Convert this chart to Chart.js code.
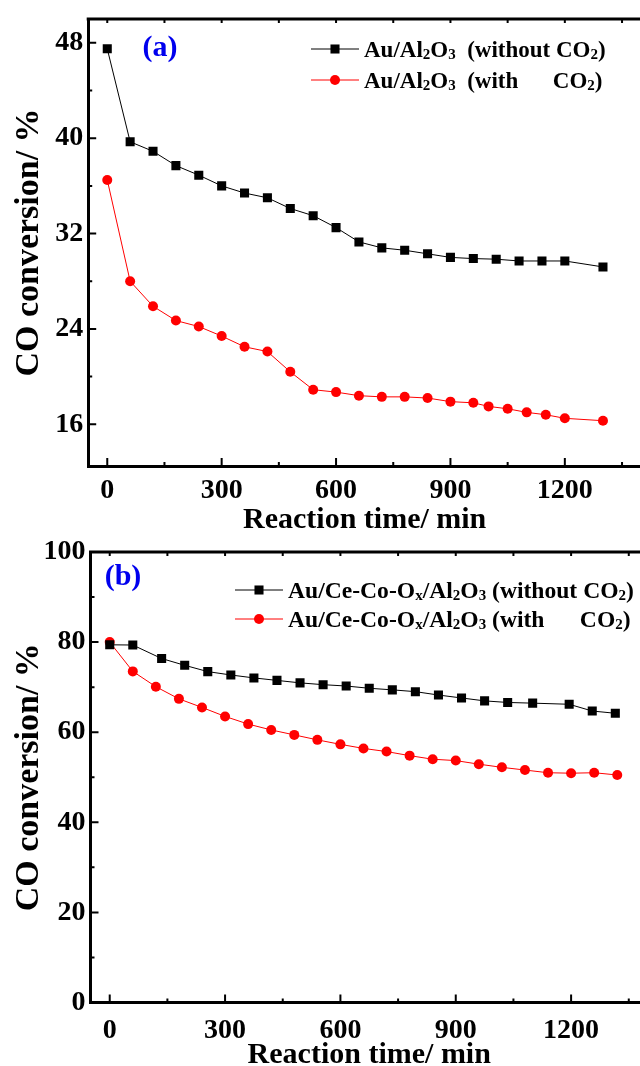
<!DOCTYPE html>
<html>
<head>
<meta charset="utf-8">
<script src="https://cdn.jsdelivr.net/npm/chart.js@4.4.1/dist/chart.umd.min.js"></script>
<style>
html, body { margin: 0; padding: 0; background: #fff; overflow: hidden; width: 640px; height: 1066px; }
canvas { position: absolute; left: 0; }
#chartA { top: 0; }
#chartB { top: 533px; }
</style>
</head>
<body>
<canvas id="chartA" width="700" height="545"></canvas>
<canvas id="chartB" width="700" height="546"></canvas>
<script>
// (a) Au/Al2O3
const timeA_noCO2 = [0, 60, 120, 180, 240, 300, 360, 420, 480, 540, 600, 660, 720, 780, 840, 900, 960, 1020, 1080, 1140, 1200, 1300];
const convA_noCO2 = [47.5, 39.7, 38.9, 37.7, 36.9, 36.0, 35.4, 35.0, 34.1, 33.5, 32.5, 31.3, 30.8, 30.6, 30.3, 30.0, 29.9, 29.85, 29.7, 29.7, 29.7, 29.2];
const timeA_CO2 = [0, 60, 120, 180, 240, 300, 360, 420, 480, 540, 600, 660, 720, 780, 840, 900, 960, 1000, 1050, 1100, 1150, 1200, 1300];
const convA_CO2 = [36.5, 28.0, 25.9, 24.7, 24.2, 23.4, 22.5, 22.1, 20.4, 18.9, 18.7, 18.4, 18.3, 18.3, 18.2, 17.9, 17.8, 17.5, 17.3, 17.0, 16.8, 16.5, 16.3];

// (b) Au/Ce-Co-Ox/Al2O3
const timeB_noCO2 = [0, 60, 135, 195, 255, 315, 375, 435, 495, 555, 615, 675, 735, 795, 855, 915, 975, 1035, 1100, 1195, 1255, 1315];
const convB_noCO2 = [79.4, 79.35, 76.35, 74.85, 73.45, 72.7, 72.05, 71.5, 70.95, 70.55, 70.25, 69.75, 69.4, 69.0, 68.25, 67.6, 66.95, 66.6, 66.45, 66.2, 64.7, 64.2];
const timeB_CO2 = [0, 60, 120, 180, 240, 300, 360, 420, 480, 540, 600, 660, 720, 780, 840, 900, 960, 1020, 1080, 1140, 1200, 1260, 1320];
const convB_CO2 = [80.0, 73.5, 70.1, 67.4, 65.5, 63.5, 61.8, 60.5, 59.4, 58.3, 57.3, 56.4, 55.7, 54.8, 54.0, 53.7, 52.9, 52.2, 51.6, 51.0, 50.9, 51.0, 50.5];

const xTicks = [0, 300, 600, 900, 1200];
const yTicksA = [16, 24, 32, 40, 48];
const yTicksB = [0, 20, 40, 60, 80, 100];

// "_x" = subscript
const labelsA = ['Au/Al_2O_3  (without CO_2)', 'Au/Al_2O_3  (with      CO_2)'];
const labelsB = ['Au/Ce-Co-O_x/Al_2O_3 (without CO_2)', 'Au/Ce-Co-O_x/Al_2O_3 (with      CO_2)'];

const serif = "'Liberation Serif', 'Times New Roman', serif";

function pts(xs, ys) {
    return xs.map((x, i) => ({x: x, y: ys[i]}));
}

// inward ticks, mirrored ticks on the top border, top frame line
const frame = {
    id: 'frame',
    afterDraw(chart, args, opts) {
        const {ctx, chartArea: {top, bottom, left, right}, scales: {x, y}} = chart;
        ctx.save();
        ctx.strokeStyle = '#000';
        ctx.lineWidth = 3;
        ctx.beginPath();
        ctx.moveTo(left - 1.5, top);
        ctx.lineTo(right + 2, top);
        ctx.stroke();

        ctx.lineWidth = 2;
        ctx.beginPath();
        for (let v = 0; v <= x.max; v += 150) {
            const px = x.getPixelForValue(v);
            const len = v % 300 === 0 ? 8 : 4;
            ctx.moveTo(px, bottom);
            ctx.lineTo(px, bottom - len);
            ctx.moveTo(px, top);
            ctx.lineTo(px, top + 4);
        }
        const half = opts.yMinor;
        for (let v = Math.ceil(y.min / half) * half; v <= y.max; v += half) {
            const py = y.getPixelForValue(v);
            const len = opts.yMajor.includes(v) ? 8 : 4;
            ctx.moveTo(left, py);
            ctx.lineTo(left + len, py);
        }
        ctx.stroke();

        // panel tag
        ctx.fillStyle = '#0000ee';
        ctx.font = 'bold 30px ' + serif;
        ctx.textAlign = 'center';
        ctx.textBaseline = 'middle';
        ctx.fillText(opts.tag, opts.tagX, opts.tagY);
        ctx.restore();
    }
};

// legend with subscripts, drawn inside the plot
const richLegend = {
    id: 'richLegend',
    afterDraw(chart, args, opts) {
        const ctx = chart.ctx;
        ctx.save();
        chart.data.datasets.forEach((ds, i) => {
            const y = opts.y + i * opts.gap;
            ctx.strokeStyle = ds.borderColor;
            ctx.fillStyle = ds.backgroundColor;
            ctx.lineWidth = 1;
            ctx.beginPath();
            ctx.moveTo(opts.x, y);
            ctx.lineTo(opts.x + opts.len, y);
            ctx.stroke();
            Chart.helpers.drawPoint(ctx, {pointStyle: ds.pointStyle, radius: ds.pointRadius, borderWidth: 0, rotation: 0}, opts.x + opts.len / 2, y);

            const parts = ds.label.split(/_(.)/);
            let tx = opts.x + opts.len + 5;
            const base = y + 7.5;
            ctx.fillStyle = '#000';
            ctx.textAlign = 'left';
            ctx.textBaseline = 'alphabetic';
            parts.forEach((p, k) => {
                if (k % 2) {
                    ctx.font = 'bold ' + Math.round(opts.size * 0.65) + 'px ' + serif;
                    ctx.fillText(p, tx, base + 2);
                } else {
                    ctx.font = 'bold ' + opts.size + 'px ' + serif;
                    ctx.fillText(p, tx, base);
                }
                tx += ctx.measureText(p).width;
            });
        });
        ctx.restore();
    }
};

function makeChart(id, sets, labels, yMin, yMax, yTicks, yMinor, geo) {
    const ctx = document.getElementById(id).getContext('2d');
    return new Chart(ctx, {
        type: 'line',
        data: {
            datasets: [{
                label: labels[0],
                data: pts(sets[0], sets[1]),
                borderColor: '#000',
                backgroundColor: '#000',
                borderWidth: 1,
                pointStyle: 'rect',
                pointRadius: 6.4,
                pointBorderWidth: 0
            }, {
                label: labels[1],
                data: pts(sets[2], sets[3]),
                borderColor: '#ff0000',
                backgroundColor: '#ff0000',
                borderWidth: 1,
                pointStyle: 'circle',
                pointRadius: 5,
                pointBorderWidth: 0
            }]
        },
        options: {
            responsive: false,
            animation: false,
            layout: {
                padding: {top: geo.top, right: geo.right, left: 0, bottom: 0}
            },
            scales: {
                x: {
                    type: 'linear',
                    min: -50,
                    max: 1400,
                    afterBuildTicks: (s) => { s.ticks = xTicks.map(v => ({value: v})); },
                    afterFit: (s) => { s.height = geo.xh; },
                    grid: {display: false, drawTicks: false},
                    border: {display: true, color: '#000', width: 3},
                    ticks: {
                        color: '#000',
                        padding: geo.xpad,
                        maxRotation: 0,
                        callback: (v) => String(v),
                        font: {family: serif, size: 28, weight: 'bold', lineHeight: 1}
                    },
                    title: {
                        display: true,
                        text: 'Reaction time/ min',
                        color: '#000',
                        padding: {top: 0, bottom: geo.tpad},
                        font: {family: serif, size: 30, weight: 'bold'}
                    }
                },
                y: {
                    min: yMin,
                    max: yMax,
                    afterBuildTicks: (s) => { s.ticks = yTicks.map(v => ({value: v})); },
                    afterFit: (s) => { s.width = geo.yw; },
                    grid: {display: false, drawTicks: false},
                    border: {display: true, color: '#000', width: 3},
                    ticks: {
                        color: '#000',
                        padding: 5,
                        callback: (v) => String(v),
                        font: {family: serif, size: 28, weight: 'bold', lineHeight: 1}
                    },
                    title: {
                        display: true,
                        text: 'CO conversion/ %',
                        color: '#000',
                        padding: {top: 9, bottom: 0},
                        font: {family: serif, size: 34, weight: 'bold'}
                    }
                }
            },
            plugins: {
                legend: {display: false},
                tooltip: {enabled: false},
                frame: {yMajor: yTicks, yMinor: yMinor, tag: geo.tag, tagX: geo.tagX, tagY: geo.tagY},
                richLegend: {x: geo.lx, y: geo.ly, gap: geo.lgap, len: 48, size: geo.lsize}
            }
        },
        plugins: [frame, richLegend]
    });
}

makeChart('chartA', [timeA_noCO2, convA_noCO2, timeA_CO2, convA_CO2], labelsA, 12.5, 50, yTicksA, 4,
    {top: 13.3, right: 58.9, xh: 79, yw: 88.2, xpad: 11, tpad: 7,
     tag: '(a)', tagX: 160, tagY: 48, lx: 311, ly: 49, lgap: 31, lsize: 23});

makeChart('chartB', [timeB_noCO2, convB_noCO2, timeB_CO2, convB_CO2], labelsB, 0, 100, yTicksB, 10,
    {top: 15.3, right: 52, xh: 76.5, yw: 90.5, xpad: 14, tpad: 6,
     tag: '(b)', tagX: 123, tagY: 44, lx: 235, ly: 57, lgap: 29, lsize: 23.6});
</script>
</body>
</html>
